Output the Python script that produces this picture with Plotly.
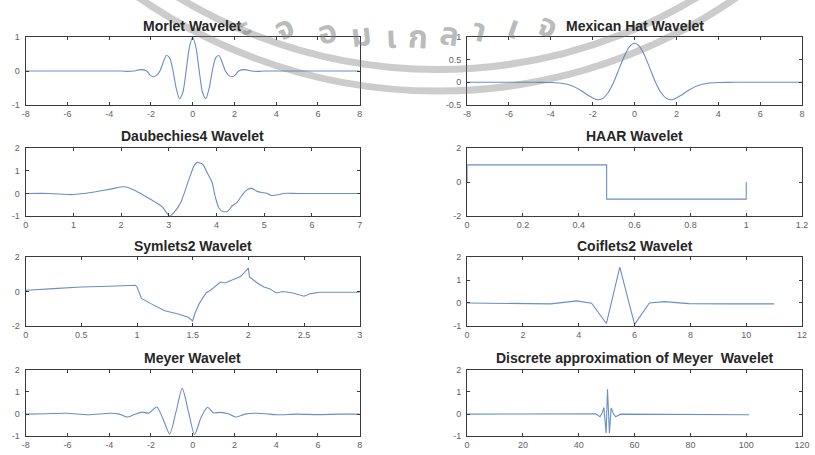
import plotly.graph_objects as go

W, H = 815, 455

# ---------------- data ----------------
morlet_x = [-8, -7, -6, -5, -4, -3.4, -3.14, -2.83, -2.51, -2.2, -2.04, -1.88, -1.72, -1.57, -1.41, -1.26, -1.1,
            -0.94, -0.79, -0.63, -0.47, -0.31, -0.16, 0, 0.16, 0.31, 0.47, 0.63, 0.79, 0.94, 1.1,
            1.26, 1.41, 1.57, 1.72, 1.88, 2.04, 2.2, 2.51, 2.83, 3.14, 3.4, 4, 5, 6, 7, 8]
morlet_y = [0, 0, 0, 0, 0, 0, -0.01, 0, 0.04, 0, -0.12, -0.17, -0.12, 0, 0.26, 0.46, 0.39,
            0, -0.51, -0.82, -0.63, 0.02, 0.69, 1.0, 0.69, 0.02, -0.63, -0.82, -0.51, 0, 0.39,
            0.46, 0.26, 0, -0.12, -0.17, -0.12, 0, 0.04, 0, -0.01, 0, 0, 0, 0, 0, 0]

mexhat_x = [-8, -7, -6, -5, -4.5, -4, -3.5, -3, -2.6, -2.2, -1.9, -1.73, -1.5, -1.25, -1, -0.75, -0.5, -0.25, 0,
            0.25, 0.5, 0.75, 1, 1.25, 1.5, 1.73, 1.9, 2.2, 2.6, 3, 3.5, 4, 4.5, 5, 6, 7, 8]
mexhat_y = [0, 0, 0, -0.001, -0.002, -0.006, -0.021, -0.077, -0.17, -0.296, -0.372, -0.387, -0.352, -0.223, 0,
            0.286, 0.574, 0.788, 0.867,
            0.788, 0.574, 0.286, 0, -0.223, -0.352, -0.387, -0.372, -0.296, -0.17, -0.077, -0.021, -0.006,
            -0.002, -0.001, 0, 0, 0]

db4_x = [0, 0.5, 1.0, 1.4, 1.8, 2.06, 2.3, 2.57, 2.85, 3.02, 3.14, 3.26, 3.43, 3.54, 3.6, 3.71,
         3.81, 3.9, 3.98, 4.05, 4.12, 4.23, 4.33, 4.43, 4.54, 4.64, 4.74, 4.85, 4.95, 5.05, 5.15,
         5.29, 5.4, 5.7, 6, 6.5, 7]
db4_y = [0, 0, -0.05, 0.05, 0.2, 0.29, 0.12, -0.2, -0.57, -0.99, -0.75, -0.35, 0.67, 1.25, 1.36, 1.28,
         0.88, 0.52, -0.2, -0.64, -0.78, -0.78, -0.54, -0.39, -0.06, 0.16, 0.22, 0.09, 0.04, 0.01, -0.09,
         -0.06, 0, 0, 0, 0, 0]

haar_x = [0, 0, 0.5, 0.5, 1, 1]
haar_y = [0, 1, 1, -1, -1, 0]

sym2_x = [0, 0.01, 0.25, 0.5, 0.75, 0.985, 1.0, 1.04, 1.12, 1.25, 1.37, 1.46, 1.5, 1.52, 1.56,
          1.62, 1.66, 1.75, 1.79, 1.84, 1.93, 2.0, 2.01, 2.08, 2.14, 2.19, 2.25, 2.31, 2.4, 2.5,
          2.56, 2.64, 3]
sym2_y = [0.0, 0.08, 0.17, 0.27, 0.31, 0.37, 0.27, -0.4, -0.69, -1.12, -1.31, -1.5, -1.72, -1.27, -0.69,
          -0.08, 0.08, 0.56, 0.5, 0.65, 0.88, 1.37, 0.85, 0.5, 0.27, 0.17, -0.08, 0, -0.08, -0.27,
          -0.12, -0.04, -0.04]

coif2_x = [0, 2.05, 3, 3.93, 4.46, 4.99, 5.47, 6.0, 6.53, 7.06, 7.94, 9.47, 11]
coif2_y = [0, -0.03, -0.04, 0.09, -0.01, -0.9, 1.57, -0.94, 0.0, 0.06, -0.03, -0.04, -0.04]

meyer_x = [-8, -7, -6, -5, -4, -3.5, -3.14, -2.8, -2.43, -2.1, -1.72, -1.45, -1.1, -0.8, -0.5,
           -0.2, 0.09, 0.4, 0.71, 1.0, 1.34, 1.7, 2.05, 2.5, 3, 3.5, 4, 5, 6, 7, 8]
meyer_y = [0, 0.02, 0.04, -0.03, 0.04, 0, -0.13, -0.02, 0.09, 0.05, 0.32, -0.15, -0.89, 0.1, 1.16,
           0.1, -0.92, -0.15, 0.31, 0.06, 0.08, 0.02, -0.13, 0.0, 0.04, 0.02, -0.03, 0, -0.02, 0, 0]

dmey_x = [0, 44, 46, 47.6, 48.4, 49.0, 49.8, 50.3, 51.0, 51.6, 52.3, 53.2, 55, 101]
dmey_y = [0, 0, 0.02, -0.12, 0.05, 0.3, -0.85, 1.12, -0.85, 0.28, 0.05, -0.12, 0.0, -0.03]

titles = ["Morlet Wavelet", "Mexican Hat Wavelet", "Daubechies4 Wavelet", "HAAR Wavelet",
          "Symlets2 Wavelet", "Coiflets2 Wavelet", "Meyer Wavelet", "Discrete approximation of Meyer  Wavelet"]

ticks_pm8 = [-8, -6, -4, -2, 0, 2, 4, 6, 8]
ticks_pm8_lbl = ["-8", "-6", "-4", "-2", "0", "2", "4", "6", "8"]
ticks_db4 = [0, 1, 2, 3, 4, 5, 6, 7]
ticks_haar = [0, 0.2, 0.4, 0.6, 0.8, 1, 1.2]
ticks_sym = [0, 0.5, 1, 1.5, 2, 2.5, 3]
ticks_coif = [0, 2, 4, 6, 8, 10, 12]
ticks_dmey = [0, 20, 40, 60, 80, 100, 120]
yt_m1_1 = [-1, 0, 1]
yt_mex = [-0.5, 0, 0.5, 1]
yt_m1_2 = [-1, 0, 1, 2]
yt_m2_2 = [-2, 0, 2]
yt_mex_lbl = ["-0.5", "0", "0.5", "1"]

panels = [
    (morlet_x, morlet_y, [-8, 8], [-1, 1], ticks_pm8, ticks_pm8_lbl, yt_m1_1, None, "spline"),
    (mexhat_x, mexhat_y, [-8, 8], [-0.5, 1], ticks_pm8, ticks_pm8_lbl, yt_mex, yt_mex_lbl, "spline"),
    (db4_x, db4_y, [0, 7], [-1, 2], ticks_db4, None, yt_m1_2, None, "spline"),
    (haar_x, haar_y, [0, 1.2], [-2, 2], ticks_haar, None, yt_m2_2, None, "linear"),
    (sym2_x, sym2_y, [0, 3], [-2, 2], ticks_sym, None, yt_m2_2, None, "linear"),
    (coif2_x, coif2_y, [0, 12], [-1, 2], ticks_coif, None, yt_m1_2, None, "linear"),
    (meyer_x, meyer_y, [-8, 8], [-1, 2], ticks_pm8, ticks_pm8_lbl, yt_m1_2, None, "spline"),
    (dmey_x, dmey_y, [0, 120], [-1, 2], ticks_dmey, None, yt_m1_2, None, "linear"),
]

# ---------------- layout geometry (pixels) ----------------
col_px = [(22, 361), (470, 810)]
row_px = [(33, 102), (146, 216), (258, 328), (373, 441)]

def lbl(v):
    return [("-%g" % abs(t)) if t < 0 else ("%g" % t) for t in v]

fig = go.Figure()
layout = dict(width=W, height=H, margin=dict(l=0, r=0, t=0, b=0),
              paper_bgcolor="white", plot_bgcolor="rgba(0,0,0,0)",
              showlegend=False, annotations=[], shapes=[])

axis_common = dict(showline=True, linecolor="#3a3a3a", linewidth=1, mirror="ticks",
                   ticks="inside", ticklen=3, tickcolor="#3a3a3a", tickwidth=1,
                   showgrid=False, zeroline=False,
                   tickfont=dict(family="Liberation Sans, Arial, sans-serif", size=9, color="#626262"))

for i, (xs, ys, xr, yr, xt, xtl, yt, ytl, shp) in enumerate(panels):
    r, c = divmod(i, 2)
    x0, x1 = col_px[c]
    y0, y1 = row_px[r]
    n = "" if i == 0 else str(i + 1)
    layout["xaxis" + n] = dict(axis_common, domain=[x0 / W, x1 / W], range=xr,
                               tickvals=xt, ticktext=xtl if xtl else lbl(xt),
                               anchor="y" + n, ticklabelstandoff=0)
    layout["yaxis" + n] = dict(axis_common, domain=[1 - y1 / H, 1 - y0 / H], range=yr,
                               tickvals=yt, ticktext=ytl if ytl else lbl(yt),
                               anchor="x" + n, ticklabelstandoff=3)
    fig.add_trace(go.Scatter(x=xs, y=ys, mode="lines", xaxis="x" + n, yaxis="y" + n,
                             line=dict(color="#6a8ec6", width=1.1, shape=shp, smoothing=0.7),
                             hoverinfo="skip"))
    layout["annotations"].append(dict(
        text="<b>%s</b>" % titles[i], xref="paper", yref="paper",
        x=(x0 + x1) / 2 / W, y=1 - (y0 - 12) / H, xanchor="center", yanchor="middle",
        showarrow=False, font=dict(family="Liberation Sans, Arial, sans-serif", size=14, color="#262626")))

# ---------------- watermark (scan decoration) ----------------
cx, cy = 440, -440
for rad in (506, 528):
    layout["shapes"].append(dict(type="circle", xref="paper", yref="paper",
                                 x0=(cx - rad) / W, x1=(cx + rad) / W,
                                 y0=1 - (cy + rad) / H, y1=1 - (cy - rad) / H,
                                 line=dict(color="rgba(120,120,120,0.38)", width=7),
                                 layer="above"))
wm_chars = [("ะ", 243, 22, -30), ("จ", 285, 25, -22), ("อ", 328, 29, -14), ("ม", 363, 32, -7),
            ("เ", 393, 34, -2), ("ก", 420, 34, 3), ("ล", 452, 31, 9), ("า", 482, 27, 15),
            ("เ", 517, 24, 20), ("จ", 552, 22, 26)]
for ch, px, py, ang in wm_chars:
    layout["annotations"].append(dict(
        text="<b>%s</b>" % ch, xref="paper", yref="paper", x=px / W, y=1 - py / H,
        xanchor="center", yanchor="middle", showarrow=False, textangle=ang,
        font=dict(family="Noto Sans Thai, Loma, Garuda, DejaVu Sans, sans-serif", size=32,
                  color="rgba(120,120,120,0.5)")))

fig.update_layout(**layout)
fig.write_html("out.html")
